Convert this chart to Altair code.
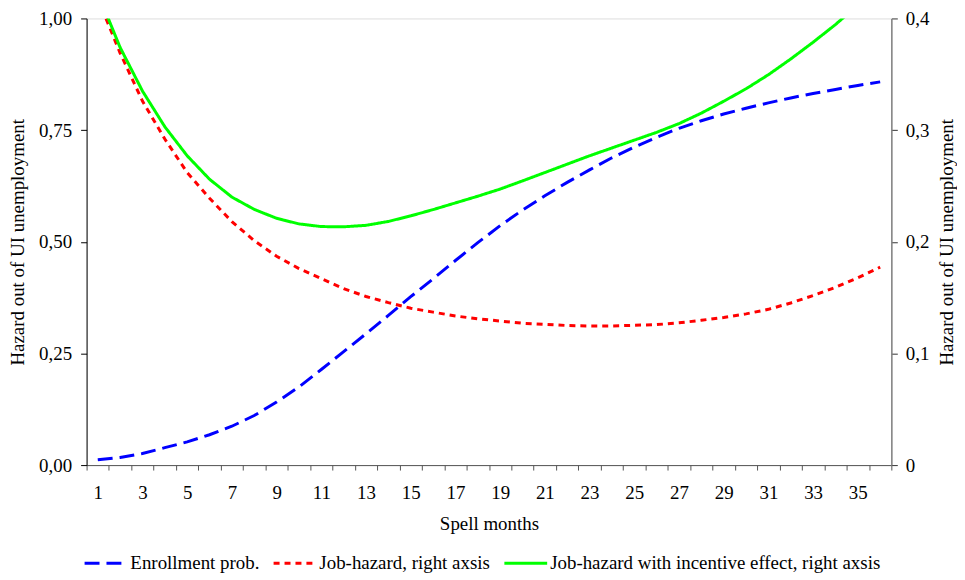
import altair as alt
import pandas as pd

months = list(range(1, 37))

enrollment = [0.012, 0.017, 0.026, 0.039, 0.052, 0.068, 0.087, 0.111, 0.141, 0.175,
              0.214, 0.254, 0.294, 0.335, 0.377, 0.417, 0.458, 0.498, 0.536, 0.571,
              0.603, 0.633, 0.661, 0.688, 0.712, 0.734, 0.754, 0.771, 0.786, 0.799,
              0.811, 0.822, 0.832, 0.841, 0.850, 0.858]

job_hazard = [0.418, 0.369, 0.326, 0.292, 0.262, 0.239, 0.218, 0.201, 0.187, 0.176,
              0.167, 0.158, 0.151, 0.1455, 0.1405, 0.137, 0.1335, 0.131, 0.129, 0.127,
              0.126, 0.125, 0.1246, 0.1246, 0.1252, 0.1258, 0.1274, 0.1297, 0.1322, 0.1354,
              0.1395, 0.1452, 0.1518, 0.1592, 0.1678, 0.1772]

job_hazard_incentive = [0.423, 0.374, 0.335, 0.303, 0.277, 0.256, 0.240, 0.229, 0.221, 0.216,
                        0.2136, 0.2134, 0.2147, 0.2182, 0.2232, 0.2288, 0.2348, 0.2408, 0.2472, 0.2545,
                        0.2620, 0.2695, 0.2770, 0.2840, 0.2910, 0.2980, 0.3058, 0.3152, 0.3258, 0.3370,
                        0.3496, 0.3637, 0.3787, 0.3945, 0.4120, 0.4310]

series_names = ["Enrollment prob.", "Job-hazard, right axsis",
                "Job-hazard with incentive effect, right axsis"]
series_colors = ["#0000ff", "#ff0000", "#00ff00"]
series_dashes = [[15, 7], [6, 5], [1, 0]]

left_ticks = [0, 0.25, 0.5, 0.75, 1.0]
right_ticks = [0, 0.1, 0.2, 0.3, 0.4]
x_label_values = list(range(1, 36, 2))
x_tick_values = [m - 0.5 for m in range(1, 38)]

rows = []
for name, vals in zip(series_names, [enrollment, job_hazard, job_hazard_incentive]):
    for m, v in zip(months, vals):
        rows.append({"month": m, "series": name, "value": v})
df = pd.DataFrame(rows)

FONT = "Liberation Serif"
FS = 19

color_scale = alt.Scale(domain=series_names, range=series_colors)
dash_scale = alt.Scale(domain=series_names, range=series_dashes)
legend = alt.Legend(
    title=None, orient="none", legendX=-4, legendY=524, direction="horizontal",
    symbolType="stroke", symbolSize=1850, symbolStrokeWidth=3,
    labelFont=FONT, labelFontSize=FS, labelColor="black", labelOffset=1,
    columnPadding=7, labelLimit=600,
)

x_domain = alt.Scale(domain=[0.5, 36.5], nice=False, zero=False)

base = alt.Chart(df)

left = base.transform_filter(
    alt.datum.series == series_names[0]
).mark_line(strokeWidth=3, clip=True).encode(
    x=alt.X("month:Q", scale=x_domain,
            axis=alt.Axis(orient="bottom", values=x_label_values, ticks=False, domain=False,
                          grid=False, labelPadding=19, labelFont=FONT, labelFontSize=FS,
                          labelColor="black", format="d", title="Spell months",
                          titleFont=FONT, titleFontSize=FS, titleFontWeight="normal",
                          titleColor="black", titlePadding=12)),
    y=alt.Y("value:Q", scale=alt.Scale(domain=[0, 1], nice=False),
            axis=alt.Axis(orient="left", values=left_ticks, grid=False,
                          labelExpr="replace(format(datum.value, '.2f'), '.', ',')",
                          labelFont=FONT, labelFontSize=FS, labelColor="black",
                          tickSize=6, tickColor="black", domainColor="black",
                          labelPadding=9,
                          title="Hazard out of UI unemployment", titleFont=FONT,
                          titleFontSize=FS, titleFontWeight="normal", titleColor="black",
                          titlePadding=11)),
    color=alt.Color("series:N", scale=color_scale, legend=legend, sort=series_names),
    strokeDash=alt.StrokeDash("series:N", scale=dash_scale, legend=legend, sort=series_names),
)

right = base.transform_filter(
    alt.datum.series != series_names[0]
).mark_line(strokeWidth=3, clip=True).encode(
    x=alt.X("month:Q", scale=x_domain,
            axis=alt.Axis(orient="bottom", values=x_tick_values, labels=False, grid=False,
                          tickSize=5, tickColor="#555555", domainColor="#555555",
                          title=None)),
    y=alt.Y("value:Q", scale=alt.Scale(domain=[0, 0.4], nice=False),
            axis=alt.Axis(orient="right", values=right_ticks, grid=False,
                          labelExpr="datum.value == 0 ? '0' : replace(format(datum.value, '.1f'), '.', ',')",
                          labelFont=FONT, labelFontSize=FS, labelColor="black",
                          tickSize=6, tickColor="#333333", domainColor="#808080",
                          domainWidth=1.5, labelPadding=8,
                          title="Hazard out of UI unemployment", titleFont=FONT,
                          titleFontSize=FS, titleFontWeight="normal", titleColor="black",
                          titleAngle=270, titlePadding=28)),
    color=alt.Color("series:N", scale=color_scale, legend=legend, sort=series_names),
    strokeDash=alt.StrokeDash("series:N", scale=dash_scale, legend=legend, sort=series_names),
    detail="series:N",
)

chart = alt.layer(left, right).resolve_scale(
    y="independent"
).resolve_axis(
    x="independent"
).properties(
    width=809, height=449,
    autosize=alt.AutoSizeParams(type="none"),
    padding={"left": 79, "top": 9, "right": 66, "bottom": 110},
).configure_view(stroke=None).configure(background="white")

chart.save("out.html", embed_options={"renderer": "svg", "actions": False})
